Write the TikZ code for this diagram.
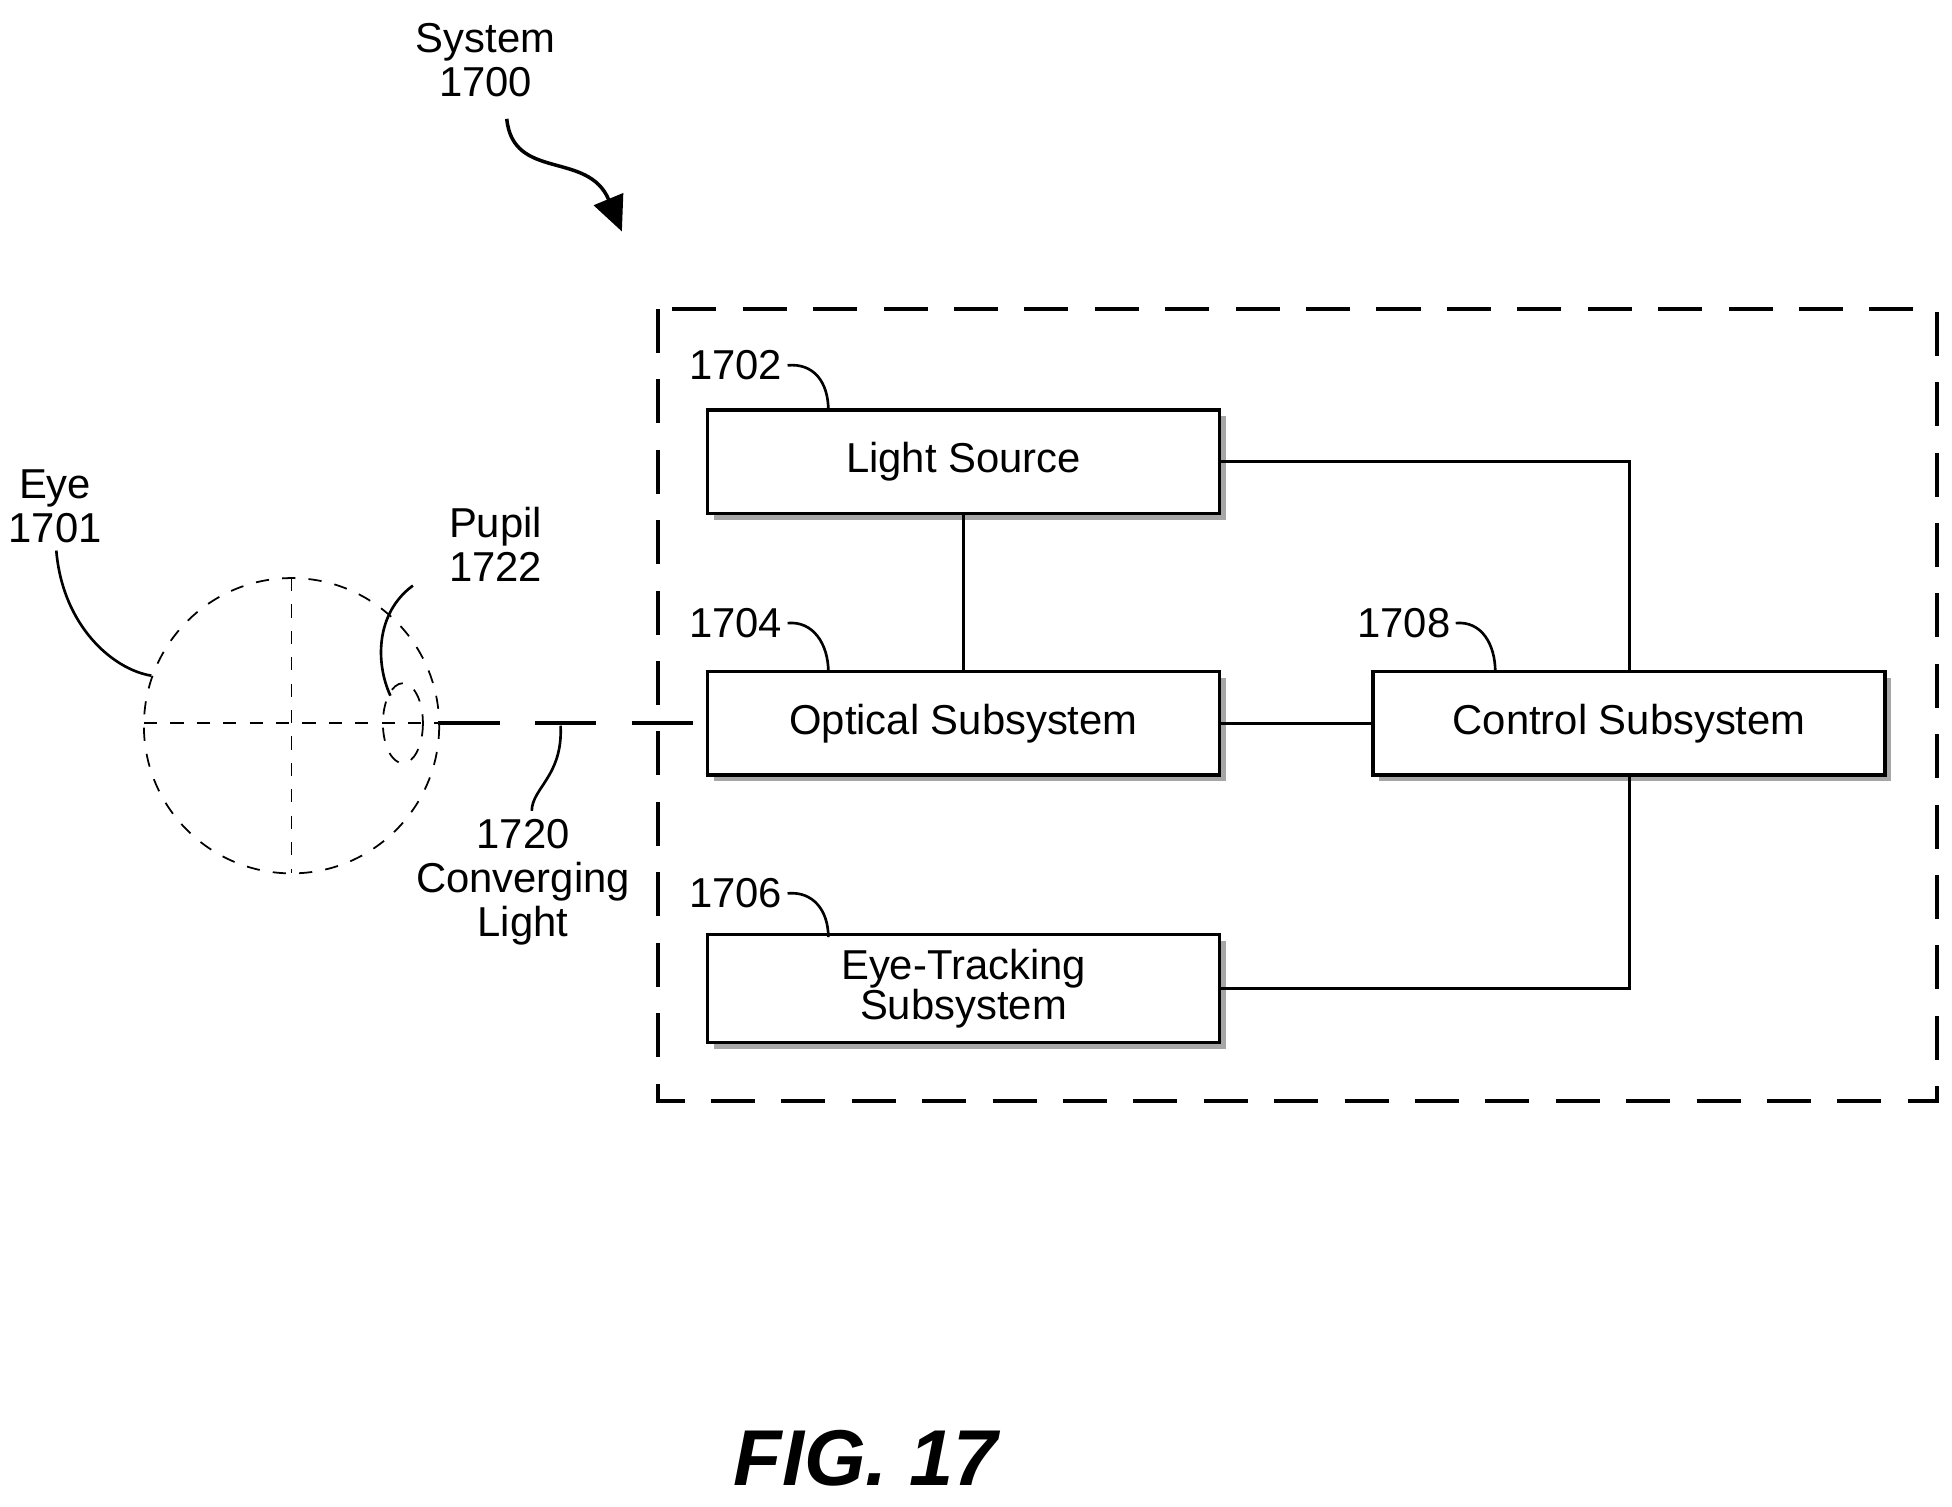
\documentclass[tikz,border=0pt]{standalone}
\usepackage{fontspec}
\setmainfont{Liberation Sans}
\usetikzlibrary{shadows,arrows.meta,positioning}
\tikzset{
  block/.style={draw, thick, fill=white, minimum width=4.09cm, minimum height=0.83cm,
    font=\fontsize{9.5}{9}\selectfont, align=center,
    drop shadow={shadow xshift=0.05cm, shadow yshift=-0.05cm, fill=gray!70, opacity=1}},
  lbl/.style={font=\fontsize{9.5}{10}\selectfont, align=center},
  lead/.style={semithick},
}
\begin{document}
\begin{tikzpicture}[x=0.01cm,y=-0.01cm]
  \useasboundingbox (0,0) rectangle (1560,1204);

  % System frame
    \draw[thick, dash pattern=on 10pt off 6pt] (526,247) rectangle (1548,880);

  % Blocks
    \node[block] (light) at (770,369) {Light Source};
    \node[block] (optical) at (770,578) {Optical Subsystem};
    \node[block] (track) at (770,790) {Eye-Tracking\\Subsystem};
    \node[block] (control) at (1302,578) {Control Subsystem};

  % Connectors
    \draw[semithick] (light.east) -| (control.north);
    \draw[semithick] (light.south) -- (optical.north);
    \draw[semithick] (optical.east) -- (control.west);
    \draw[semithick] (control.south) |- (track.east);

  % Reference numerals
    \node[lbl, inner sep=1pt] (n1702) at (588,292) {1702};
    \node[lbl, inner sep=1pt] (n1704) at (588,498) {1704};
    \node[lbl, inner sep=1pt] (n1706) at (588,714) {1706};
    \node[lbl, inner sep=1pt] (n1708) at (1122,498) {1708};
    \draw[lead] (n1702.east) .. controls (650,290) and (662,305) .. (662,328);
    \draw[lead] (n1704.east) .. controls (650,496) and (662,515) .. (662,537);
    \draw[lead] (n1706.east) .. controls (650,712) and (662,728) .. (662,749);
    \draw[lead] (n1708.east) .. controls (1184,496) and (1195,515) .. (1195,537);

  % Eye
    \coordinate (eyec) at (233,580);
    \draw[dashed] (eyec) circle (118);
    \draw[dashed] (233,462) -- (233,698);
    \draw[dashed] (115,578) -- (350,578);
    \draw[dashed] (322,578) ellipse (16 and 32);
    \draw[thick, dash pattern=on 14pt off 8pt] (350,578) -- (optical.west);

    \node[lbl] (eye) at (44,405) {Eye\\1701};
    \node[lbl] (pupil) at (396,435) {Pupil\\1722};
    \node[lbl] (conv) at (418,705) {1720\\Converging\\Light};
    \draw[lead] (45,440) .. controls (50,500) and (90,535) .. (121,540);
    \draw[lead] (330,468) .. controls (300,490) and (300,530) .. (312,556);
    \draw[lead] (448,580) .. controls (450,620) and (425,630) .. (425,648);

  % System label and arrow
    \node[lbl] (sys) at (388,48) {System\\1700};
    \draw[thick, -{Triangle[length=0.28cm,width=0.25cm]}]
      (405,95) .. controls (410,145) and (470,120) .. (497,185);

  % Figure caption
    \node[font=\bfseries\itshape\fontsize{18}{20}\selectfont] (fig) at (692,1165) {FIG. 17};
\end{tikzpicture}
\end{document}
